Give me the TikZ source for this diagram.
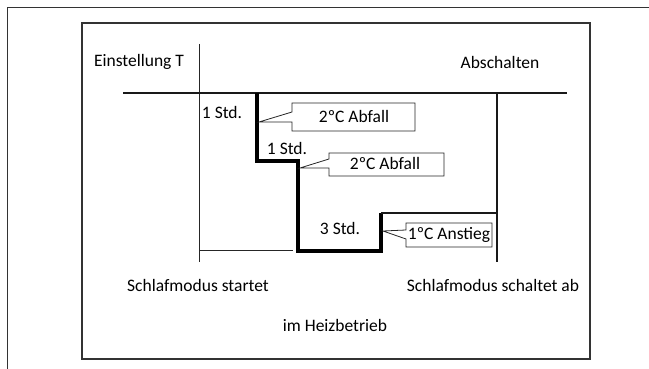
\documentclass[tikz,border=0pt]{standalone}
\usepackage{fontspec}
\setmainfont{Carlito}
\begin{document}
\begin{tikzpicture}[x=1pt,y=-1pt,font=\fontsize{17.5}{20}\selectfont,
        frameline/.style={line width=1.2pt,black!80},
        thinline/.style={line width=0.8pt,black!85},
        midline/.style={line width=1.8pt,black!90},
        stepline/.style={line width=3.6pt,black,line join=miter},
        callout/.style={line width=0.8pt,black!85},
        lbl/.style={inner sep=0pt,anchor=center}]
        \useasboundingbox (0,0) rectangle (649,369);
        % outer frame and inner box
        \coordinate (O1) at (7.5,369);
        \coordinate (O2) at (7.5,7.5);
        \coordinate (O3) at (649,7.5);
        \draw[frameline] (O1) -- (O2) -- (O3);
        \draw[frameline] (82,23) rectangle (590,359);
        % axes
        \coordinate (Y1) at (199,44);
        \coordinate (Y2) at (199,262);
        \coordinate (S1) at (123,93);
        \coordinate (S2) at (567,93);
        \coordinate (B1) at (199,250);
        \coordinate (B2) at (293,250);
        \coordinate (R1) at (497,93);
        \coordinate (R2) at (497,262);
        \draw[thinline] (Y1) -- (Y2);
        \draw[thinline] (B1) -- (B2);
        \draw[midline] (S1) -- (S2);
        \draw[midline] (R1) -- (R2);
        % temperature steps
        \coordinate (P0) at (257,93);
        \coordinate (P1) at (257,161);
        \coordinate (P2) at (298,161);
        \coordinate (P3) at (298,251);
        \coordinate (P4) at (381,251);
        \coordinate (P5) at (381,213);
        \coordinate (P6) at (497,213);
        \draw[stepline] (P0) -- (P1) -- (P2) -- (P3) -- (P4) -- (P5);
        \draw[midline] (P5) -- (P6);
        % callouts
        \draw[callout] (259,122) -- (292,112) -- (292,103) -- (415,103) -- (415,131) -- (292,131) -- (292,122) -- cycle;
        \draw[callout] (300,168) -- (329,159) -- (329,153) -- (444,153) -- (444,176) -- (329,176) -- (329,168) -- cycle;
        \draw[callout] (383,231) -- (406,230) -- (406,223) -- (492,223) -- (492,247) -- (406,247) -- (406,239) -- cycle;
        % labels
        \node[lbl] (einst) at (139,62) {Einstellung T};
        \node[lbl] (absch) at (500,62) {Abschalten};
        \node[lbl] (std1) at (222,112) {1 Std.};
        \node[lbl] (std2) at (287,148) {1 Std.};
        \node[lbl] (std3) at (340,228) {3 Std.};
        \node[lbl] (abf1) at (354,116) {2ºC Abfall};
        \node[lbl] (abf2) at (385,163) {2ºC Abfall};
        \node[lbl] (anst) at (449,235) {1ºC Anstieg};
        \node[lbl] (start) at (198,285) {Schlafmodus startet};
        \node[lbl] (stop) at (493,285) {Schlafmodus schaltet ab};
        \node[lbl] (heiz) at (335,325) {im Heizbetrieb};
\end{tikzpicture}
\end{document}
